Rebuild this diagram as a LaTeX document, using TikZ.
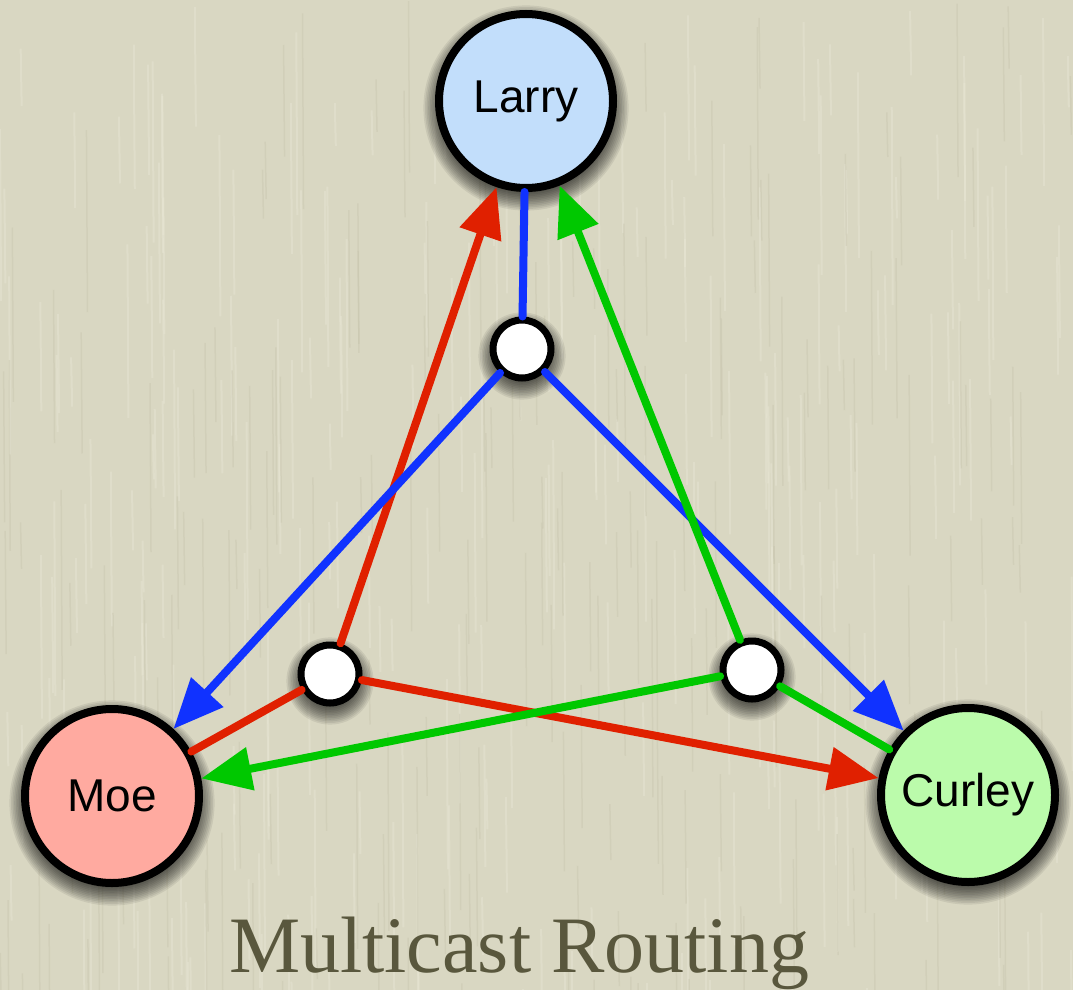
\documentclass[tikz,border=0pt]{standalone}
\usepackage{fontspec}
\setmainfont{Liberation Serif}
\newfontfamily\labelfont{Liberation Sans}
\usetikzlibrary{arrows.meta}

\definecolor{paper}{RGB}{217,215,194}
\definecolor{paperlight}{RGB}{232,230,212}
\definecolor{paperdark}{RGB}{196,193,170}
\definecolor{larryfill}{RGB}{194,222,251}
\definecolor{moefill}{RGB}{255,170,160}
\definecolor{curleyfill}{RGB}{187,251,171}
\definecolor{linkblue}{RGB}{16,50,255}
\definecolor{linkred}{RGB}{224,32,0}
\definecolor{linkgreen}{RGB}{0,200,0}
\definecolor{titleink}{RGB}{89,87,61}

% soft drop shadow: centre x, centre y, outer radius
\newcommand\softshadow[3]{%
  \foreach \k in {0,...,11}{%
    \fill[black, opacity=0.07] (#1,#2+7) circle ({#3-6+1.6*\k});
  }%
}

\begin{document}
\begin{tikzpicture}[x=1pt,y=-1pt,
  host/.style={circle, draw=black, line width=8pt, minimum size=174pt,
    inner sep=0pt, font=\labelfont\fontsize{46}{50}\selectfont},
  relay/.style={circle, draw=black, line width=7pt, fill=white,
    minimum size=58pt, inner sep=0pt},
  link/.style={line width=8pt, line cap=round},
  feed/.style={link, -{Triangle[length=50pt,width=42pt]}},
]
% paper background with faint vertical grain
\fill[paper] (0,0) rectangle (1073,990);
\useasboundingbox (0,0) rectangle (1073,990);
\pgfmathsetseed{7}
\foreach \i in {1,...,260}{%
  \pgfmathsetmacro\gx{rnd*1073}%
  \pgfmathsetmacro\gy{rnd*990}%
  \pgfmathsetmacro\gl{40+rnd*160}%
  \draw[paperlight, opacity=0.45, line width=2pt] (\gx,\gy) -- (\gx+1,\gy+\gl);
}
\foreach \i in {1,...,200}{%
  \pgfmathsetmacro\gx{rnd*1073}%
  \pgfmathsetmacro\gy{rnd*990}%
  \pgfmathsetmacro\gl{40+rnd*160}%
  \draw[paperdark, opacity=0.35, line width=1.5pt] (\gx,\gy) -- (\gx+1,\gy+\gl);
}

% shadows
\softshadow{526}{101}{91}
\softshadow{112}{796}{91}
\softshadow{968}{795}{91}
\softshadow{522}{349}{32}
\softshadow{330}{674}{32}
\softshadow{752}{670}{32}

% hosts and relays
\node[host, fill=larryfill] (larry) at (526,101) {\raisebox{-3pt}{Larry}};
\node[host, fill=moefill] (moe) at (112,796) {Moe};
\node[host, fill=curleyfill] (curley) at (968,795) {Curley};
\node[relay] (hubL) at (522,349) {};
\node[relay] (hubM) at (330,674) {};
\node[relay] (hubC) at (752,670) {};

% Moe's tree
\draw[feed, linkred] (hubM) -- (larry);
\draw[link, linkred] (hubM) -- (moe);
\draw[feed, linkred] (hubM) -- (curley);
% Larry's tree
\draw[link, linkblue] (larry) -- (hubL);
\draw[feed, linkblue] (hubL) -- (moe);
\draw[feed, linkblue] (hubL) -- (curley);
% Curley's tree
\draw[feed, linkgreen] (hubC) -- (larry);
\draw[feed, linkgreen] (hubC) -- (moe);
\draw[link, linkgreen] (hubC) -- (curley);

% caption
\node[anchor=base, inner sep=0pt, text=titleink,
  font=\fontsize{80}{90}\selectfont] (caption) at (519,972) {Multicast Routing};
\end{tikzpicture}
\end{document}
